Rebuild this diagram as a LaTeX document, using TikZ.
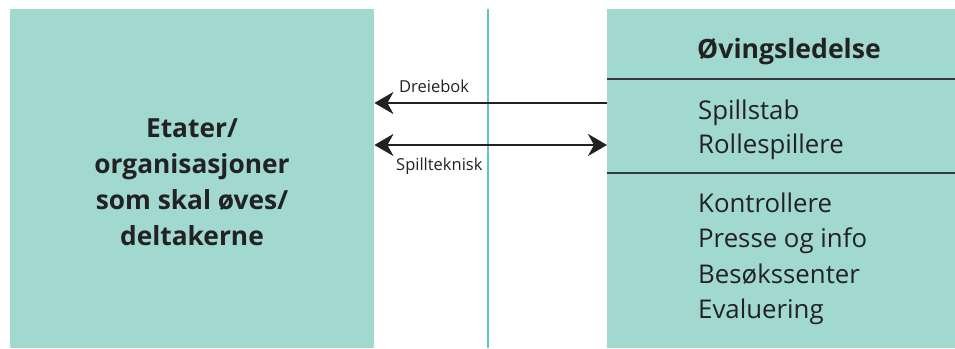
\documentclass[tikz,border=0pt]{standalone}
\usepackage{fontspec}
\setmainfont{Open Sans}
\usetikzlibrary{arrows.meta}
\definecolor{boxfill}{HTML}{A1D8CF}
\definecolor{vline}{HTML}{5EC7B8}
\definecolor{ink}{HTML}{222222}
\tikzset{
  panel/.style={draw=none, fill=boxfill, inner sep=0pt, anchor=north west},
  divider/.style={draw=ink!90, line width=2pt},
  flow/.style={draw=ink, line width=2.6pt, -{Stealth[length=19pt,width=22pt,inset=6pt]}},
  flowboth/.style={draw=ink, line width=2.6pt, {Stealth[length=19pt,width=22pt,inset=6pt]}-{Stealth[length=19pt,width=22pt,inset=6pt]}},
  item/.style={anchor=base west, inner sep=0pt, text=ink, font=\fontsize{25.8}{30}\selectfont},
  title/.style={anchor=base west, inner sep=0pt, text=ink, font=\fontsize{26.6}{30}\selectfont\bfseries},
  lefttxt/.style={anchor=base, inner sep=0pt, text=ink, font=\fontsize{26.3}{30}\selectfont\bfseries},
  lbl/.style={anchor=base west, inner sep=0pt, text=ink, font=\fontsize{16.5}{20}\selectfont},
}
\begin{document}
\begin{tikzpicture}[x=1pt,y=-1pt]
\useasboundingbox (0,0) rectangle (955,348);
% boxes
\node[panel, minimum width=364pt, minimum height=339pt] (L) at (10,9) {};
\node[panel, minimum width=348pt, minimum height=339pt] (R) at (607,9) {};
% vertical line
\coordinate (vtop) at (488,9);
\coordinate (vbot) at (488,348);
\draw[vline, line width=2pt] (vtop) -- (vbot);
% dividers
\coordinate (d1) at (607,79);
\coordinate (d2) at (607,173);
\draw[divider] (d1) -- (d1 -| R.east);
\draw[divider] (d2) -- (d2 -| R.east);
% left text
\node[lefttxt] (l1) at (192,137) {Etater/};
\node[lefttxt] (l2) at (192,173) {organisasjoner};
\node[lefttxt] (l3) at (192,209) {som skal øves/};
\node[lefttxt] (l4) at (192,245) {deltakerne};
% right text
\node[title] (t0) at (697,58) {Øvingsledelse};
\node[item] (r1) at (698,119) {Spillstab};
\node[item] (r2) at (698,153) {Rollespillere};
\node[item] (r3) at (698,212) {Kontrollere};
\node[item] (r4) at (698,247) {Presse og info};
\node[item] (r5) at (698,283) {Besøkssenter};
\node[item] (r6) at (698,318) {Evaluering};
% arrows
\coordinate (a1r) at (R.west |- 0,103);
\coordinate (a1l) at (L.east |- 0,103);
\coordinate (a2r) at (R.west |- 0,145);
\coordinate (a2l) at (L.east |- 0,145);
\draw[flow] (a1r) -- (a1l);
\draw[flowboth] (a2l) -- (a2r);
\node[lbl] (dre) at (399,92) {Dreiebok};
\node[lbl] (spt) at (396,170) {Spillteknisk};
\end{tikzpicture}
\end{document}
